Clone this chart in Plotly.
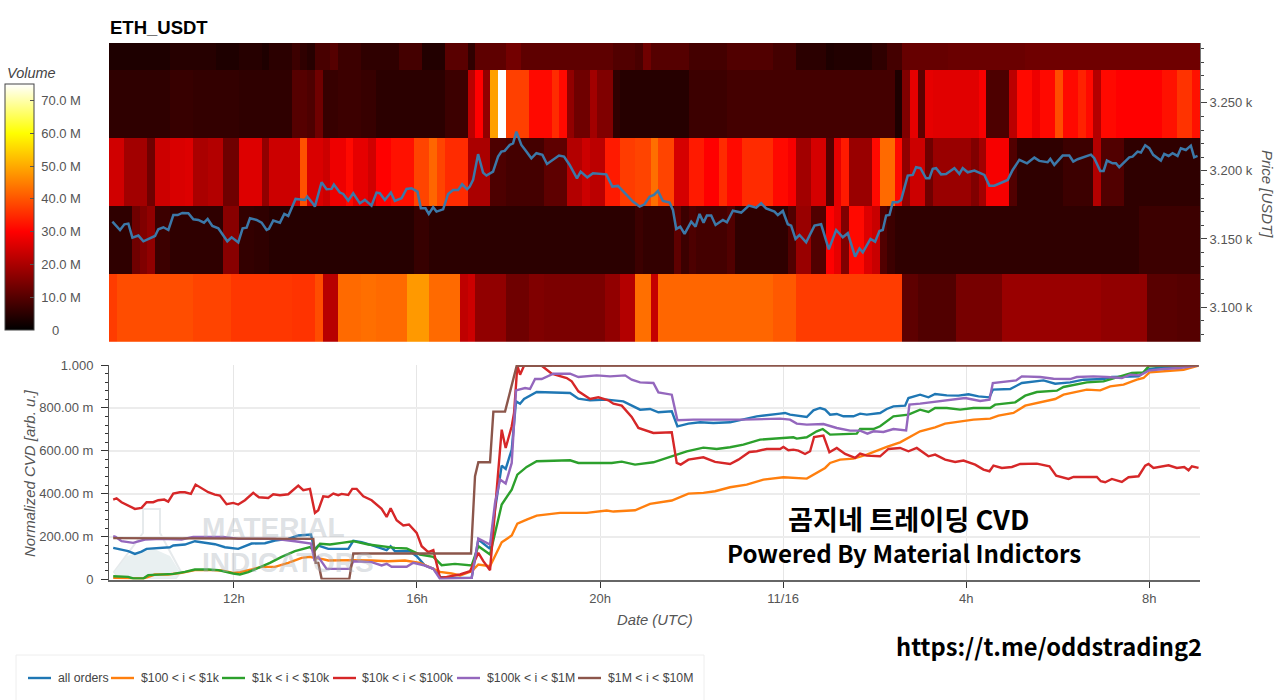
import plotly.graph_objects as go

W, H = 1280, 700

# ---------- heatmap data: volume (millions) per 10-minute column, one list per price band ----------
t_start = 9.27          # hours since 11/15 00:00 of first column
band_prices = [3099.3, 3149.3, 3199.3, 3249.3, 3299.3]

band_3100 = [
 37,39,39,39,39,39,39,39,39,39,
 39,38,38,38,38,38,36.5,36.5,36.5,36.5,
 36.5,36.5,36.5,36.5,36,36,36,39,21.5,21.5,
 42.5,42.5,42.5,43,43,42.5,42.5,42.5,42.5,48,
 48,48,42.5,42.5,42.5,42.5,22.5,24,17,17,
 17,17,13,13,13,15,15,14.5,14.5,14.5,
 14.5,14.5,14.5,14.5,14.5,17,17,21,21,43,
 43,23,42,42,42,42,42,42,42,42,
 42,42,42,42,42,42,42,40.5,40.5,40.5,
 37,37,37,37,37,37,37,37,37,37,
 37,37,37,37,11,11,9.5,9.5,9.5,9.5,
 9.5,14,14,14,14,14,14,18,18,18,
 18,18,18,18,18,18,18,18,18,18,
 17,17,17,17,17,17,10.5,10.5,10.5,10.5,
 10,10,10]
band_3150 = [
 5.5,5.5,5.5,13,15,17,7,7,5.5,5.5,
 5.5,5.5,5.5,5.5,5.5,16,16,6,6,5.5,
 5.5,4.5,4.5,4.5,4.5,4.5,4.5,4.5,4.5,4.5,
 4.5,4.5,4.5,4.5,4.5,4.5,4.5,4.5,4.5,4.5,
 6.5,6.5,5,5,5,5,5,5,5,5,
 5,5,5,5,5,5,5,5,5,5,
 5,5,5,5,5,5,5,5,5,7,
 6,6,6,6,11,7,9,8,8,8,
 8,9.5,5.5,5.5,5.5,5.5,5.5,5.5,5.5,9.5,
 18,18,9.5,9.5,30,27,15,31,31,26,
 23.5,9.5,7,5.5,5.5,5.5,5.5,5.5,5.5,5.5,
 5.5,5.5,5.5,5.5,5.5,5.5,5.5,5.5,5.5,5.5,
 5.5,5.5,5.5,5.5,5.5,5.5,5.5,5.5,5.5,5.5,
 5.5,5.5,5.5,5.5,5.5,7,7,7,7,7,
 7,7,7]
band_3200 = [
 24.5,24.5,19,19,19,13,24,24,25.5,25.5,
 26,20,20,21,21,13,13,26,26,26,
 17,24,24,24,24,39.5,25.5,25.5,24,28,
 28,31,27,27,24.5,30,30,32,32,32,
 38,38,42,38,35,35,35,20,20,20,
 9,9,8,8,8,8,8,11,11,11,
 21,21,24,22,22,33,33,37,37,38,
 38,43,38,38,25,25,33,33,30,30,
 35,31,31,35,35,35,35,31,31,29,
 19,19,25,25,9.5,27,33,18,18,18,
 31,42.5,42.5,31,17,24,24,13,18,18,
 18,18,18,15,19,29,29,29,9.5,5.5,
 5.5,5.5,5.5,5.5,5.5,7,7,7,7,21,
 9.5,9.5,9.5,5.5,5.5,5.5,5.5,5.5,5.5,5.5,
 5.5,5.5,5.5]
band_3250 = [
 5.5,5.5,5.5,5.5,5.5,5.5,5.5,5.5,6.5,6.5,
 6.5,6,6,6,6,6,6,5.5,5.5,5.5,
 5.5,5.5,5.5,5.5,10,10,9,13,6.5,6.5,
 7,7,7,6.5,6.5,5,5,5,5,5,
 5,5,5,5,7,7,7,22,30,17,
 48.8,75,37.5,37.5,37.5,31,31,31,35,31,
 17,13,13,19,15,15,5.5,4.5,4.5,4.5,
 4.5,4.5,4.5,4.5,4.5,4.5,7,7,7,7,
 7,8,8,8,8,8,8,8,8,8,
 8,8,8,8,8,8,8,8,8,8,
 8,8,8,3.5,15,27,11,27,26.5,26.5,
 26.5,26.5,26.5,26.5,29,9,9,9,22,31,
 31,28,31,31,39,31,31,34,31,21,
 31,31,30,30,30,30,30,30,32,32,
 36,36,32]
band_3300 = [
 3.5,3.5,3.5,3.5,3.5,3.5,3.5,3.5,4.5,4.5,
 4.5,4.5,4.5,4.5,3.5,3.5,3.5,4.5,4.5,4.5,
 3.5,5,5,5,7,5.5,4.5,8.5,8.5,10,
 7,7,7,5.5,5.5,5.5,5.5,5.5,8,8,
 8,4,4,4,10.5,10.5,10.5,5.5,11,11,
 11,11,13.5,13.5,11,11,11,11,11,11,
 11,11,11,11,11,11,9.5,9.5,9.5,8.5,
 13,10,10,10,10,10,8,8,8,8,
 8,9.5,9.5,9.5,9.5,9.5,9.5,8,8,8,
 5,5,5,5,3.5,4,4,4,4,4,
 5.5,5.5,8,8,12,12,12,12,12,12,
 12.5,12.5,12.5,12.5,12.5,12.5,12.5,12.5,12.5,12.5,
 13,13,13,13,13,13,13,13,13,13,
 13,13,13,13,13,13,13,13,13,13,
 13,13,13]

# ---------- price line ----------
price_t = [9.344,9.417,9.511,9.606,9.693,9.781,9.912,10.021,10.130,10.276,10.348,10.458,10.567,10.676,10.771,10.872,11.004,11.113,11.222,11.346,11.426,11.528,11.659,11.746,11.855,11.950,12.095,12.190,12.277,12.350,12.495,12.605,12.714,12.765,12.859,13.005,13.100,13.187,13.347,13.551,13.602,13.711,13.769,13.915,14.024,14.133,14.184,14.315,14.388,14.497,14.606,14.752,14.861,15.006,15.115,15.188,15.298,15.429,15.516,15.662,15.771,15.880,16.011,16.084,16.186,16.258,16.353,16.426,16.571,16.680,16.789,16.899,16.986,17.095,
 17.153,17.226,17.335,17.444,17.517,17.662,17.772,17.844,17.917,18.026,18.099,18.172,18.281,18.390,18.499,18.609,18.740,18.841,18.972,19.103,19.213,19.336,19.496,19.577,19.722,19.846,20.137,20.268,20.392,20.537,20.719,20.865,20.974,21.083,21.178,21.265,21.374,21.520,21.593,21.665,21.753,21.847,21.993,22.087,22.175,22.262,22.335,22.429,22.524,22.684,22.772,22.903,23.085,23.252,23.412,23.521,23.630,23.812,23.885,23.994,24.103,24.176,24.271,24.358,24.504,24.686,24.831,24.999,25.159,
 25.305,25.414,25.574,25.669,25.742,25.909,26.011,26.106,26.178,26.251,26.324,26.397,26.506,26.579,26.724,26.833,26.906,27.001,27.124,27.197,27.270,27.343,27.452,27.561,27.743,27.852,27.925,28.034,28.180,28.398,28.507,28.616,28.908,29.017,29.162,29.330,29.490,29.599,29.781,29.839,29.926,30.109,30.254,30.341,30.436,30.727,30.800,30.931,31.004,31.076,31.200,31.273,31.345,31.564,31.637,31.746,31.819,31.913,32.001,32.088,32.255,32.328,32.423,32.510,32.619,32.692,32.801,32.910,32.983,33.056]
price_v = [3162.7,3160.3,3156.6,3160.8,3161.3,3151.0,3152.5,3148.3,3150.0,3152.2,3157.1,3158.6,3156.6,3167.6,3167.6,3169.1,3168.9,3164.5,3164.0,3162.0,3164.7,3159.6,3157.8,3153.7,3148.3,3151.2,3147.5,3157.8,3158.3,3165.2,3164.0,3162.0,3156.6,3157.4,3163.5,3162.0,3168.4,3166.9,3179.4,3178.7,3181.1,3176.7,3173.8,3191.7,3186.5,3186.8,3190.0,3184.1,3183.1,3178.2,3183.6,3176.2,3178.7,3174.5,3184.1,3183.6,3178.7,3184.1,3177.9,3179.9,3186.8,3187.3,3184.8,3172.5,3172.5,3168.4,3173.3,3170.1,3171.8,3183.1,3186.0,3186.0,3190.2,3186.5,
 3188.5,3193.4,3212.3,3198.8,3196.6,3199.5,3210.5,3214.2,3214.7,3219.1,3220.3,3228.9,3219.1,3214.2,3209.3,3213.0,3211.8,3205.1,3208.1,3211.3,3210.5,3204.4,3194.6,3199.5,3195.3,3198.3,3197.5,3188.5,3189.0,3184.1,3177.5,3173.8,3175.5,3181.1,3182.4,3185.3,3177.9,3176.7,3171.3,3157.4,3159.1,3153.7,3162.7,3159.1,3168.4,3162.0,3167.2,3167.2,3160.3,3164.0,3162.3,3170.8,3169.4,3174.5,3173.0,3176.2,3172.5,3170.1,3167.6,3170.6,3160.8,3159.8,3150.0,3152.9,3147.5,3159.8,3160.8,3142.4,3156.6,
 3151.2,3154.2,3137.0,3143.1,3140.2,3150.0,3148.0,3155.9,3156.6,3167.2,3167.6,3177.0,3177.0,3178.7,3196.6,3197.1,3202.7,3202.0,3194.6,3194.6,3201.5,3202.0,3197.5,3197.8,3202.0,3197.8,3202.0,3199.0,3200.2,3197.1,3189.2,3189.2,3193.4,3200.7,3208.1,3205.6,3209.8,3207.4,3206.4,3208.8,3204.4,3211.3,3211.3,3206.9,3208.6,3212.0,3209.3,3200.0,3200.0,3207.6,3205.6,3205.6,3202.7,3210.0,3210.5,3214.2,3213.5,3218.9,3216.7,3211.8,3207.6,3212.5,3211.0,3213.0,3211.0,3216.7,3215.4,3218.6,3210.0,3211.0]

# ---------- CVD series (hours, milli-units) ----------
all_t = [9.362,9.471,9.690,9.836,9.981,10.091,10.346,10.601,10.674,10.929,11.147,11.366,11.584,11.803,12.094,12.386,12.677,12.896,13.187,13.406,13.683,13.756,13.843,14.062,14.499,14.608,14.790,15.009,15.337,15.424,15.519,15.847,15.993,16.174,16.357,16.503,16.722,17.195,17.341,17.596,17.705,17.851,17.938,18.070,18.164,18.252,18.339,18.616,18.907,19.345,19.527,19.782,20.146,20.510,20.875,21.093,21.275,21.567,21.691,21.931,22.186,22.477,22.841,23.132,23.424,23.934,24.043,24.152,24.298,24.517,24.663,24.808,24.918,25.027,25.173,25.318,25.537,25.683,25.828,26.120,26.265,26.411,26.666,26.739,26.994,27.176,27.322,27.577,27.832,28.051,28.269,28.510,28.583,28.962,29.217,29.690,29.945,30.273,30.565,31.002,31.184,31.584,31.767,31.949,32.313,32.750,33.078]
all_v = [147.5,142.9,132.0,119.6,130.4,142.9,146.0,150.6,158.4,163.0,178.6,170.8,164.6,150.6,142.9,167.7,169.3,181.7,189.4,205.0,209.6,139.8,158.4,142.9,142.9,180.1,173.9,160.0,136.6,155.3,132.0,132.0,108.7,65.2,49.7,12.4,7.7,7.7,186.3,142.8,326.0,531.0,515.4,605.5,830.6,819.7,841.5,874.1,872.5,869.4,843.1,835.3,838.4,830.6,791.8,794.9,779.4,784.0,714.2,726.6,732.8,729.7,732.8,748.3,760.8,773.2,776.3,768.5,763.9,757.6,788.7,799.6,791.8,768.5,771.6,760.8,760.8,773.2,768.5,776.3,794.9,807.3,810.4,846.1,861.7,849.3,864.8,858.6,857.0,863.2,853.9,849.3,885.0,888.1,916.0,928.4,912.9,919.1,931.5,934.6,944.0,944.0,947.1,978.1,990.5,993.6,998.3]

o100_t = [9.362,9.690,10.018,10.273,10.564,10.856,11.147,11.512,11.730,11.985,12.131,12.386,12.604,12.896,13.187,13.479,13.661,13.756,13.916,14.062,14.280,14.608,15.009,15.373,15.737,16.065,16.357,16.503,16.758,16.940,17.195,17.341,17.596,17.851,18.070,18.193,18.397,18.616,19.126,19.709,20.146,20.292,20.765,21.093,21.567,21.931,22.258,22.513,22.841,23.205,23.570,24.007,24.517,24.735,24.918,25.027,25.245,25.537,25.828,26.265,26.557,26.994,27.322,27.541,27.796,28.160,28.525,28.707,29.034,29.290,29.945,30.127,30.637,30.929,31.147,31.439,31.730,31.876,32.007,32.313,32.750,33.078]
o100_v = [7.8,6.2,4.7,23.3,23.3,31.1,43.5,43.5,41.9,31.1,34.2,46.6,59.0,59.0,77.6,101.0,105.6,101.0,96.3,88.5,90.1,90.1,88.5,85.4,88.5,77.6,49.7,35.7,27.9,18.6,38.8,69.9,62.1,173.9,204.9,260.8,279.4,298.1,310.5,310.5,321.4,316.7,322.9,352.4,368.0,400.6,403.7,411.4,430.0,442.5,465.8,476.6,470.4,496.8,520.1,543.4,558.9,563.6,582.2,617.9,639.7,690.9,709.5,726.6,734.4,745.2,749.9,763.9,776.3,810.4,841.5,861.7,885.0,881.9,900.5,908.3,931.5,939.3,965.7,970.4,978.1,996.8]

k1_t = [9.362,9.544,9.690,9.799,10.018,10.127,10.419,10.674,10.929,11.147,11.439,11.657,11.985,12.131,12.313,12.568,12.787,13.042,13.333,13.661,13.756,13.880,14.098,14.353,14.608,14.936,15.227,15.519,15.774,16.065,16.357,16.539,16.830,16.940,17.195,17.341,17.596,17.851,18.070,18.193,18.397,18.616,19.345,19.527,20.255,20.474,20.765,21.166,21.385,21.603,21.895,22.258,22.550,22.841,23.132,23.497,23.934,24.225,24.298,24.517,24.735,24.867,25.027,25.391,25.610,25.683,25.974,26.120,26.411,26.739,26.994,27.176,27.322,27.577,27.869,28.160,28.525,28.634,29.071,29.290,29.545,29.982,30.127,30.637,31.002,31.366,31.621,31.876,31.985,32.313,33.078]
k1_v = [15.5,14.0,12.4,4.7,4.7,20.2,23.3,26.4,35.7,46.6,46.6,43.5,28.0,23.3,34.2,57.5,77.6,105.6,132.0,150.6,132.0,166.2,163.0,170.8,178.6,163.0,155.3,147.5,144.4,116.5,105.6,66.8,73.0,69.9,65.2,155.3,116.4,349.3,419.2,489.0,524.8,551.2,555.8,543.4,543.4,549.6,535.6,546.5,562.0,574.4,597.7,614.8,608.6,616.4,628.8,652.1,658.3,663.0,656.7,663.0,690.9,701.7,675.4,680.0,680.0,701.7,701.7,714.2,760.8,768.5,791.8,781.0,799.6,799.6,791.8,799.6,799.6,815.1,825.9,857.0,874.1,880.3,897.4,919.1,923.8,947.1,962.6,965.7,993.6,996.8,998.3]

k10_t = [9.362,9.435,9.544,9.690,9.836,9.981,10.091,10.236,10.346,10.477,10.564,10.674,10.819,10.929,11.060,11.162,11.293,11.439,11.584,11.694,11.839,11.985,12.094,12.240,12.422,12.546,12.750,12.859,13.005,13.187,13.406,13.515,13.661,13.770,13.843,13.952,14.062,14.171,14.280,14.353,14.499,14.586,14.681,14.827,15.009,15.227,15.337,15.424,15.555,15.701,15.825,15.993,16.102,16.247,16.357,16.503,16.649,16.794,16.940,17.159,17.341,17.450,17.596,17.851,17.938,18.070,18.121,18.193,18.252,18.339,18.725,18.944,19.272,19.381,19.527,19.782,19.964,20.182,20.292,20.474,20.692,20.838,21.166,21.567,21.676,21.763,21.931,22.258,22.513,22.841,23.023,23.264,23.424,23.643,23.934,24.007,24.116,24.225,24.335,24.480,24.590,24.677,24.881,25.012,25.173,25.355,25.573,25.683,25.828,26.120,26.302,26.557,26.739,26.921,27.176,27.322,27.541,27.759,27.942,28.197,28.379,28.510,28.597,28.780,29.000,29.180,29.545,29.821,29.967,30.237,30.346,30.856,30.943,31.038,31.184,31.402,31.548,31.767,31.913,31.985,32.094,32.423,32.605,32.765,32.860,32.933,33.078]
k10_v = [372.6,378.8,360.2,346.2,329.2,333.8,360.2,360.2,369.5,372.6,363.3,400.6,406.8,406.8,399.0,442.5,427.0,406.8,395.9,391.3,350.9,357.1,349.4,369.5,403.7,383.5,380.4,397.5,392.8,397.5,437.9,416.1,422.3,310.5,323.0,388.2,385.1,400.6,392.8,399.0,394.4,422.3,422.3,388.2,369.5,329.2,291.9,332.3,276.4,251.5,256.2,217.4,155.3,127.3,136.6,7.8,12.4,18.6,23.3,38.8,124.2,85.4,43.5,698.7,613.3,714.2,776.3,996.8,954.8,996.8,996.8,959.5,939.3,923.8,877.2,841.5,849.3,835.2,819.8,810.4,757.6,706.4,683.1,686.2,543.4,535.6,558.9,569.8,548.0,538.7,558.9,594.6,597.7,608.6,608.6,617.9,602.4,605.5,600.8,585.3,597.7,664.5,670.7,593.1,613.3,585.3,566.7,586.9,577.6,574.4,608.6,613.3,597.7,613.3,574.4,582.2,558.9,548.0,554.3,535.6,512.3,504.6,531.0,520.1,524.7,538.7,540.3,527.9,484.4,468.9,478.2,478.2,458.0,453.4,468.9,454.9,476.6,481.3,531.0,538.7,520.1,532.5,520.1,524.7,509.2,527.9,520.1]

k100_t = [9.362,9.413,9.544,9.799,10.054,10.419,10.856,11.111,11.767,12.094,12.459,12.896,13.333,13.683,13.756,13.843,14.025,14.535,14.608,15.009,15.227,15.337,15.446,15.774,15.919,16.174,16.357,16.503,17.195,17.341,17.596,17.705,17.815,17.938,18.070,18.164,18.361,18.470,18.580,18.725,18.980,19.345,19.527,19.927,20.219,20.547,20.692,20.875,21.166,21.275,21.567,21.691,22.040,23.132,23.934,24.152,24.298,24.517,24.881,25.173,25.464,25.683,25.843,25.974,26.193,26.411,26.688,26.761,26.994,27.286,27.650,27.978,28.306,28.510,28.583,28.816,29.093,29.217,29.617,29.909,30.273,30.419,30.783,31.075,31.402,31.585,31.803,31.985,32.313,32.677,33.078]
k100_v = [201.9,198.8,178.6,170.8,186.3,189.4,186.3,198.8,198.8,189.4,189.4,189.4,178.6,167.7,93.2,105.6,49.7,49.7,85.4,80.8,65.2,73.0,59.1,59.1,77.7,65.2,49.7,3.1,7.7,190.9,163.0,357.1,465.8,447.1,543.4,881.9,892.7,888.1,934.6,934.6,959.5,959.5,944.0,951.7,947.1,951.7,931.5,919.1,916.0,872.5,861.7,742.1,745.2,745.2,749.9,745.2,726.6,721.9,725.0,706.4,694.0,694.0,680.0,690.9,687.8,701.7,695.5,815.1,819.7,827.5,838.4,846.1,832.2,838.4,916.0,920.7,928.4,947.1,944.0,936.2,934.6,944.0,947.1,944.0,939.3,954.8,951.7,973.5,981.2,985.9,998.3]

m1_t = [9.362,13.734,13.785,13.843,13.916,14.521,14.608,17.181,17.268,17.341,17.596,17.669,17.924,18.179,33.078]
m1_v = [193.1,189.4,77.6,77.6,3.0,3.0,121.1,121.1,481.3,546.5,546.5,782.5,782.5,996.8,998.0]

series_names = ["all orders", "$100 < i < $1k", "$1k < i < $10k", "$10k < i < $100k", "$100k < i < $1M", "$1M < i < $10M"]
series_colors = ["#1f77b4", "#ff7f0e", "#2ca02c", "#d62728", "#9467bd", "#8c564b"]
series_t = [all_t, o100_t, k1_t, k10_t, k100_t, m1_t]
series_v = [all_v, o100_v, k1_v, k10_v, k100_v, m1_v]

date_tickvals = [12, 16, 20, 24, 28, 32]
date_ticktext = ["12h", "16h", "20h", "11/16", "4h", "8h"]
cvd_tickvals = [0, 200, 400, 600, 800, 1000]
cvd_ticktext = ["0", "200.00 m", "400.00 m", "600.00 m", "800.00 m", "1.000"]
price_tickvals = [3100, 3150, 3200, 3250]
price_ticktext = ["3.100 k", "3.150 k", "3.200 k", "3.250 k"]
vol_tickvals = [0, 10, 20, 30, 40, 50, 60, 70]
vol_ticktext = ["\u00a0\u00a0\u00a0\u00a00", "\u00a010.0 M", "\u00a020.0 M", "\u00a030.0 M", "\u00a040.0 M", "\u00a050.0 M", "\u00a060.0 M", "\u00a070.0 M"]

# ---------- helpers for page-pixel layout ----------
def px(x): return x / W
def py(y): return 1 - y / H

PLOT_L, PLOT_R = 109, 1200
X_RANGE = [9.27, 33.11]
GREY = "#555555"
SANS = "Liberation Sans, Arial, sans-serif"
CJK = "Noto Sans CJK KR, sans-serif"

heat_cols = [t_start + (i + 0.5) / 6 for i in range(len(band_3100))]

fig = go.Figure()
fig.add_trace(go.Heatmap(
    x=heat_cols, y=band_prices,
    z=[band_3100, band_3150, band_3200, band_3250, band_3300],
    zmin=0, zmax=75,
    colorscale=[[0, "#000000"], [0.4, "#ff0000"], [0.8, "#ffff00"], [1, "#ffffff"]],
    xaxis="x", yaxis="y", hoverongaps=False,
    colorbar=dict(
        x=px(5), xanchor="left", xpad=0, y=py(207), yanchor="middle", ypad=0,
        thickness=29, thicknessmode="pixels", len=246, lenmode="pixels",
        outlinecolor="#444444", outlinewidth=1,
        tickmode="array", tickvals=vol_tickvals, ticktext=vol_ticktext,
        ticks="inside", ticklen=4, tickcolor=GREY,
        tickfont=dict(family=SANS, size=13, color=GREY),
    ),
))
fig.add_trace(go.Scatter(x=price_t, y=price_v, mode="lines", showlegend=False,
                         line=dict(color="#3c78a8", width=2.5), xaxis="x", yaxis="y"))
for name, color, t, v in zip(series_names, series_colors, series_t, series_v):
    fig.add_trace(go.Scatter(x=t, y=v, mode="lines", name=name, showlegend=False,
                             line=dict(color=color, width=2.4), xaxis="x2", yaxis="y2"))

# flask watermark (decoration behind the lower chart)
def path(points):
    return "M " + " L ".join(f"{px(a):.4f} {py(b):.4f}" for a, b in points) + " Z"

shapes = [
    dict(type="path", xref="paper", yref="paper", layer="below",
         path=path([(143, 509), (160, 509), (160, 533), (181, 572), (176, 578), (119, 578), (114, 572), (143, 533)]),
         line=dict(color="#e6eaec", width=2), fillcolor="rgba(0,0,0,0)"),
    dict(type="path", xref="paper", yref="paper", layer="below",
         path=path([(127, 556), (152, 548), (170, 556), (180, 572), (176, 578), (119, 578), (114, 572)]),
         line=dict(width=0), fillcolor="#e9f0f1"),
    dict(type="rect", xref="paper", yref="paper", x0=px(16), x1=px(704), y0=py(702), y1=py(655),
         line=dict(color="#eeeeee", width=1), fillcolor="rgba(0,0,0,0)", layer="below"),
]

def note(text, x, y, size, color="#000000", family=SANS, anchor="left", angle=0, italic=False, weight=None):
    font = dict(family=family, size=size, color=color)
    if italic:
        font["style"] = "italic"
    if weight:
        font["weight"] = weight
    return dict(text=text, x=px(x), y=py(y), xref="paper", yref="paper", showarrow=False,
                xanchor=anchor, yanchor="middle", textangle=angle, font=font)

annotations = [
    note("ETH_USDT", 107.5, 27, 18.5, weight="bold"),
    note("Volume", 5, 73, 14.5, color="#444444", italic=True),
    note("Price [USDT]", 1268, 194, 15, color=GREY, anchor="center", angle=90, italic=True),
    note("Normalized CVD [arb. u.]", 29, 473, 15, color=GREY, anchor="center", angle=-90, italic=True),
    note("Date (UTC)", 655, 620, 14.8, color=GREY, anchor="center", italic=True),
    note("MATERIAL", 200, 527, 28, color="rgba(170,178,186,0.40)", weight="bold"),
    note("INDICATORS", 200, 562, 28, color="rgba(170,178,186,0.40)", weight="bold"),
    note("곰지네 트레이딩 CVD", 908, 518, 27.2, family=CJK, anchor="center", weight="bold"),
    note("Powered By Material Indictors", 904, 552, 24.1, family=CJK, anchor="center", weight="bold"),
    note("https://t.me/oddstrading2", 1049, 646, 23.7, family=CJK, anchor="center", weight="bold"),
]

# legend: line sample and real-text label for each series, at the reference's tight spacing
legend_lines = [(28, 51), (111, 134), (222, 245), (333, 356), (457, 480), (578, 601)]
legend_text_x = [57, 140, 251, 361, 486, 607]
for (a, b), color, name, tx in zip(legend_lines, series_colors, series_names, legend_text_x):
    shapes.append(dict(type="line", xref="paper", yref="paper", x0=px(a), x1=px(b), y0=py(678), y1=py(678),
                       line=dict(color=color, width=2.4)))
    annotations.append(note(name.replace("<", "&lt;"), tx - 1, 678, 12.3, color="#444444"))

fig.update_layout(
    width=W, height=H, margin=dict(l=0, r=0, t=0, b=0, autoexpand=False), autosize=False,
    paper_bgcolor="white", plot_bgcolor="white", showlegend=False,
    shapes=shapes, annotations=annotations,
    xaxis=dict(domain=[px(PLOT_L), px(PLOT_R)], range=X_RANGE, showticklabels=False,
               ticks="", showgrid=False, zeroline=False, anchor="y"),
    yaxis=dict(domain=[py(342), py(43)], range=[3074.3, 3294], side="right", anchor="x",
               tickmode="array", tickvals=price_tickvals, ticktext=price_ticktext,
               ticks="outside", ticklen=6, tickcolor="#444444",
               tickfont=dict(family=SANS, size=13, color=GREY),
               showline=True, linecolor="#777777", linewidth=1, showgrid=False, zeroline=False,
               minor=dict(dtick=10, tick0=3100, ticks="outside", ticklen=3, tickcolor="#444444", showgrid=False)),
    xaxis2=dict(domain=[px(PLOT_L), px(PLOT_R)], range=X_RANGE, anchor="y2",
                tickmode="array", tickvals=date_tickvals, ticktext=date_ticktext,
                ticks="outside", ticklen=6, tickcolor="#333333",
                tickfont=dict(family=SANS, size=13, color=GREY),
                showline=True, linecolor="#666666", linewidth=2,
                showgrid=True, gridcolor="#e6e6e6", gridwidth=1, zeroline=False),
    yaxis2=dict(domain=[py(579.5), py(365)], range=[0, 1000], anchor="x2",
                tickmode="array", tickvals=cvd_tickvals, ticktext=cvd_ticktext,
                ticks="outside", ticklen=7, tickcolor="#333333", ticklabelstandoff=5,
                tickfont=dict(family=SANS, size=13, color=GREY),
                showline=True, linecolor="#555555", linewidth=1,
                showgrid=True, gridcolor="#ececec", gridwidth=2, zeroline=False,
                minor=dict(dtick=40, tick0=0, ticks="outside", ticklen=3, tickcolor="#333333", showgrid=False)),
)

fig.write_html("out.html", config={"displayModeBar": False},
               post_script="document.body.style.margin='0';document.body.style.overflow='hidden';")
